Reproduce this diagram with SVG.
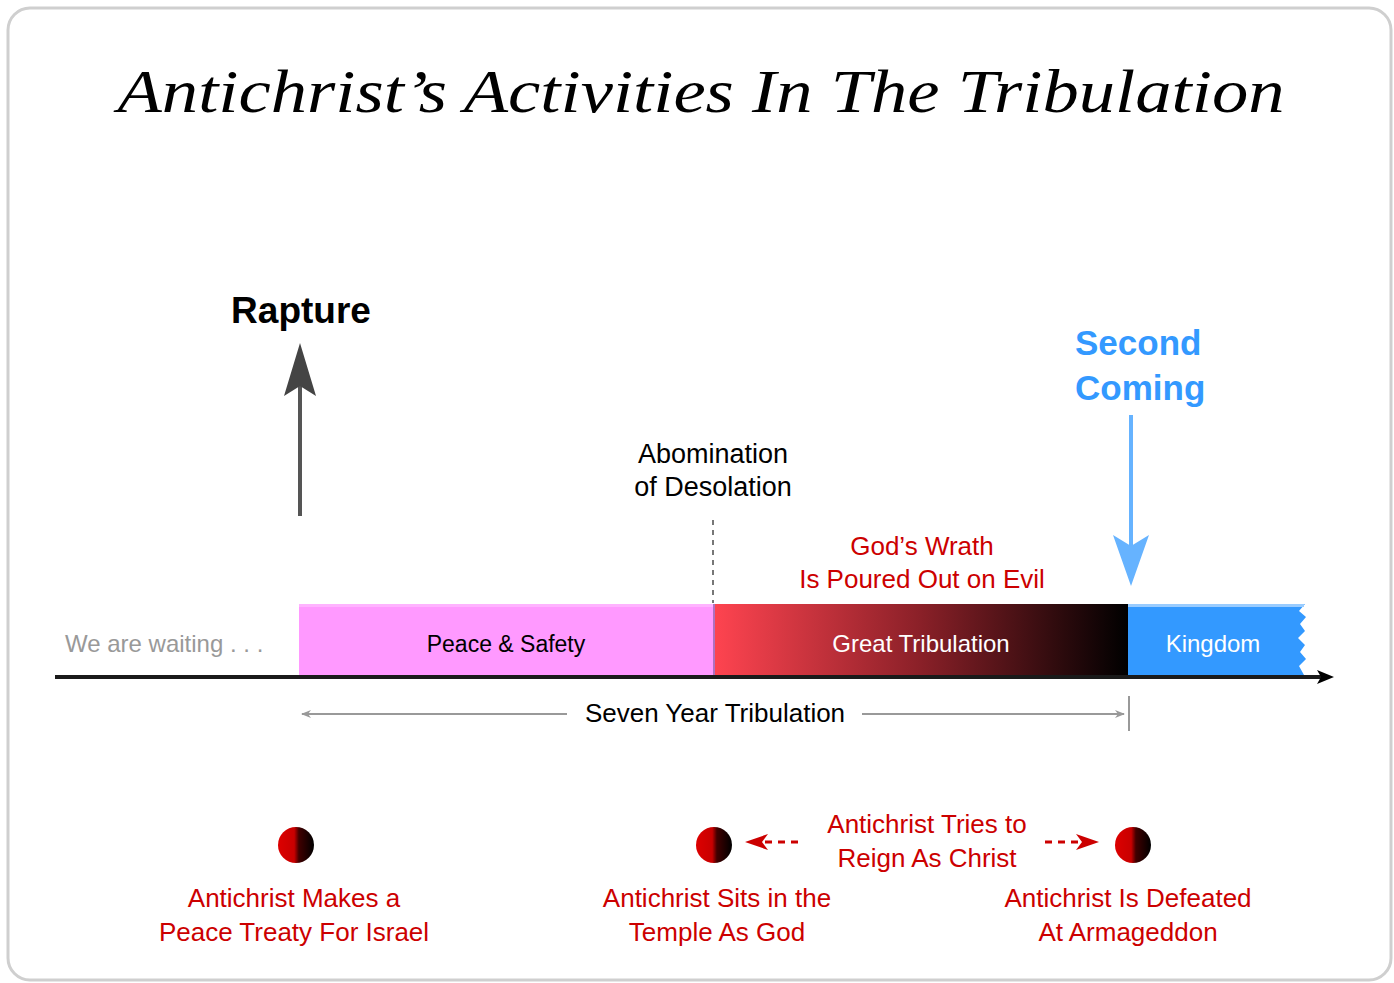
<svg xmlns="http://www.w3.org/2000/svg" width="1394" height="983" viewBox="0 0 1394 983">
<style>
.s{font-family:"Liberation Sans",Arial,sans-serif}
.red{fill:#cc0000}
.c{text-anchor:middle}
</style>
<defs>
<linearGradient id="gt" x1="0" y1="0" x2="1" y2="0">
<stop offset="0" stop-color="#ff4450"/>
<stop offset="0.5" stop-color="#8a2028"/>
<stop offset="1" stop-color="#000"/>
</linearGradient>
<linearGradient id="dot" x1="0" y1="0" x2="1" y2="0">
<stop offset="0" stop-color="#dd0000"/>
<stop offset="0.45" stop-color="#c80000"/>
<stop offset="0.58" stop-color="#400000"/>
<stop offset="1" stop-color="#000"/>
</linearGradient>
<marker id="sm" markerWidth="10" markerHeight="8" refX="9" refY="4" orient="auto" markerUnits="userSpaceOnUse">
<path d="M0,0 L10,4 L0,8 L3,4 Z" fill="#999"/>
</marker>
</defs>
<rect x="8" y="8" width="1383" height="972" rx="22" fill="#fff" stroke="#cfcfcf" stroke-width="3"/>
<text x="701" y="112" text-anchor="middle" font-family="'Liberation Serif','Times New Roman',serif" font-style="italic" font-size="62" textLength="1167" lengthAdjust="spacingAndGlyphs" fill="#000">Antichrist’s Activities In The Tribulation</text>

<g id="timeline">
<rect x="299" y="604" width="414" height="71" fill="#ff99ff"/>
<rect x="299" y="604" width="414" height="3" fill="#ffb3ff"/>
<rect x="713" y="604" width="415" height="71" fill="url(#gt)"/>
<rect x="713" y="604" width="2" height="71" fill="#b070c0"/>
<path d="M1128,604 H1305 L1299,611 L1306,617 L1300,624 L1305,631 L1298,638 L1305,645 L1300,652 L1306,659 L1299,666 L1304,675 H1128 Z" fill="#3399ff"/>
<rect x="1128" y="604" width="176" height="3" fill="#99ccff"/>
</g>

<g id="connectors">
<line x1="55" y1="677" x2="1322" y2="677" stroke="#1a1a1a" stroke-width="4"/>
<path d="M1317,670 L1334,677 L1317,684 L1321,677 Z" fill="#000"/>
<line x1="300" y1="516" x2="300" y2="380" stroke="#555" stroke-width="4"/>
<path d="M300,343 L316,396 L300,386 L284,396 Z" fill="#444"/>
<line x1="1131" y1="415" x2="1131" y2="550" stroke="#66b3ff" stroke-width="4"/>
<path d="M1131,586 L1113,535 L1131,546 L1149,535 Z" fill="#66b3ff"/>
<line x1="713" y1="520" x2="713" y2="603" stroke="#777" stroke-width="2" stroke-dasharray="5,5"/>
<line x1="567" y1="714" x2="302" y2="714" stroke="#999" stroke-width="2" marker-end="url(#sm)"/>
<line x1="862" y1="714" x2="1124" y2="714" stroke="#999" stroke-width="2" marker-end="url(#sm)"/>
<line x1="1129" y1="696" x2="1129" y2="731" stroke="#999" stroke-width="2"/>
<line x1="798" y1="842" x2="762" y2="842" stroke="#cc0000" stroke-width="3" stroke-dasharray="7,6"/>
<path d="M745,842 L768,834 L762,842 L768,850 Z" fill="#cc0000"/>
<line x1="1045" y1="842" x2="1082" y2="842" stroke="#cc0000" stroke-width="3" stroke-dasharray="7,6"/>
<path d="M1099,842 L1076,834 L1082,842 L1076,850 Z" fill="#cc0000"/>
</g>

<g id="rapture"><text class="s c" x="301" y="323" font-size="37" font-weight="bold" fill="#000">Rapture</text></g>
<g id="second-coming" class="s" font-size="35" font-weight="bold" fill="#3399ff">
<text x="1075" y="355">Second</text>
<text x="1075" y="400">Coming</text>
</g>
<g id="abomination" class="s c" font-size="27" fill="#000">
<text x="713" y="463">Abomination</text>
<text x="713" y="496">of Desolation</text>
</g>
<g id="wrath" class="s c red" font-size="26">
<text x="922" y="555">God’s Wrath</text>
<text x="922" y="588">Is Poured Out on Evil</text>
</g>
<g id="labels" class="s" font-size="24">
<text x="65" y="652" fill="#999">We are waiting . . .</text>
<text class="c" x="506" y="652" fill="#000" font-size="23">Peace &amp; Safety</text>
<text class="c" x="921" y="652" fill="#fff">Great Tribulation</text>
<text class="c" x="1213" y="652" fill="#fff">Kingdom</text>
</g>
<g id="seven-year"><text class="s c" x="715" y="722" font-size="26" fill="#000">Seven Year Tribulation</text></g>

<g id="treaty">
<circle cx="296" cy="845" r="18" fill="url(#dot)"/>
<text class="s c red" x="294" y="907" font-size="26">Antichrist Makes a</text>
<text class="s c red" x="294" y="941" font-size="26">Peace Treaty For Israel</text>
</g>
<g id="temple">
<circle cx="714" cy="845" r="18" fill="url(#dot)"/>
<text class="s c red" x="717" y="907" font-size="26">Antichrist Sits in the</text>
<text class="s c red" x="717" y="941" font-size="26">Temple As God</text>
</g>
<g id="reign">
<text class="s c red" x="927" y="833" font-size="26">Antichrist Tries to</text>
<text class="s c red" x="927" y="867" font-size="26">Reign As Christ</text>
</g>
<g id="armageddon">
<circle cx="1133" cy="845" r="18" fill="url(#dot)"/>
<text class="s c red" x="1128" y="907" font-size="26">Antichrist Is Defeated</text>
<text class="s c red" x="1128" y="941" font-size="26">At Armageddon</text>
</g>
</svg>
